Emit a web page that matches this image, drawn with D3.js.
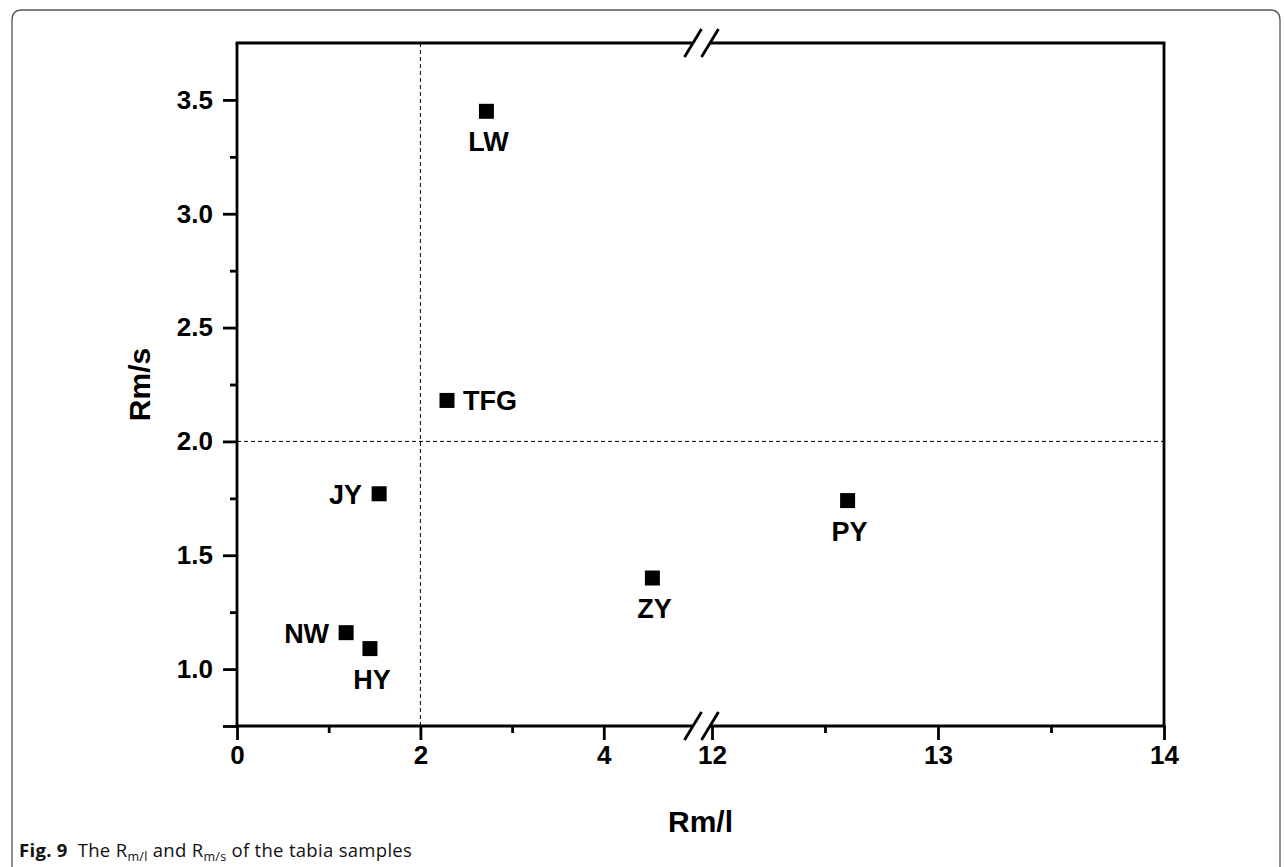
<!DOCTYPE html>
<html><head><meta charset="utf-8">
<script src="https://cdn.jsdelivr.net/npm/d3@7"></script>
<style>
body{margin:0;background:#fff;}
svg{display:block;}
</style></head>
<body>
<svg id="c" width="1284" height="867"></svg>
<script>
const samples = ["LW","TFG","JY","NW","HY","ZY","PY"];
const rml = [2.72, 2.29, 1.55, 1.19, 1.45, 4.53, 12.6];
const rms = [3.45, 2.18, 1.77, 1.16, 1.09, 1.40, 1.74];
const labelPos = ["below","right","left","left","below","below","below"];
const xTicks1 = [0, 2, 4];
const xMinor1 = [1, 3];
const xTicks2 = [12, 13, 14];
const xMinor2 = [12.5, 13.5];
const yTicks = [1.0, 1.5, 2.0, 2.5, 3.0, 3.5];
const yMinor = [1.25, 1.75, 2.25, 2.75, 3.25];
const refX = 2, refY = 2.0;

const svg = d3.select("#c");
const L = 237, R = 1164, T = 43, B = 726;
const brk1 = 693, brk2 = 710;
const x1 = d3.scaleLinear().domain([0, 5]).range([L, L + 5 * 91.7]);
const x2 = d3.scaleLinear().domain([12, 14]).range([712, R]);
const xs = v => v <= 6 ? x1(v) : x2(v);
const y = d3.scaleLinear().domain([0.75, 3.75]).range([B, T]);

// outer frame
svg.append("path")
  .attr("d", `M12,880 L12,20 Q12,10 22,10 L1270,10 Q1280,10 1280,20 L1280,880`)
  .attr("fill", "none").attr("stroke", "#555").attr("stroke-width", 1.3);

// reference dashed lines
svg.append("line").attr("x1", xs(refX)).attr("x2", xs(refX)).attr("y1", T).attr("y2", B)
  .attr("stroke", "#000").attr("stroke-width", 1).attr("stroke-dasharray", "4,3");
svg.append("line").attr("x1", L).attr("x2", R).attr("y1", y(refY)).attr("y2", y(refY))
  .attr("stroke", "#000").attr("stroke-width", 1).attr("stroke-dasharray", "4,3");

const font = "'Liberation Sans', Arial, sans-serif";
const sw = 2.8;
function styleAxis(g, showText) {
  g.select(".domain").remove();
  g.selectAll(".tick line").attr("stroke", "#000").attr("stroke-width", sw);
  g.selectAll(".tick text").attr("font-family", font).attr("font-weight", "bold")
    .attr("font-size", 26).attr("fill", "#000");
  if (!showText) g.selectAll(".tick text").remove();
}
// x axis segments
const gx1 = svg.append("g").attr("transform", `translate(0,${B})`)
  .call(d3.axisBottom(x1).tickValues(xTicks1).tickSize(14).tickPadding(6).tickFormat(d3.format("d")));
styleAxis(gx1, true);
const gx1m = svg.append("g").attr("transform", `translate(0,${B})`)
  .call(d3.axisBottom(x1).tickValues(xMinor1).tickSize(7));
styleAxis(gx1m, false);
const gx2 = svg.append("g").attr("transform", `translate(0,${B})`)
  .call(d3.axisBottom(x2).tickValues(xTicks2).tickSize(14).tickPadding(6).tickFormat(d3.format("d")));
styleAxis(gx2, true);
const gx2m = svg.append("g").attr("transform", `translate(0,${B})`)
  .call(d3.axisBottom(x2).tickValues(xMinor2).tickSize(7));
styleAxis(gx2m, false);
// y axis
const gy = svg.append("g").attr("transform", `translate(${L},0)`)
  .call(d3.axisLeft(y).tickValues(yTicks).tickSize(14).tickPadding(10).tickFormat(d3.format(".1f")));
styleAxis(gy, true);
const gym = svg.append("g").attr("transform", `translate(${L},0)`)
  .call(d3.axisLeft(y).tickValues(yMinor).tickSize(7));
styleAxis(gym, false);
const gy0 = svg.append("g").attr("transform", `translate(${L},0)`)
  .call(d3.axisLeft(y).tickValues([0.75]).tickSize(14));
styleAxis(gy0, false);

// frame lines with breaks
const ax = svg.append("g").attr("stroke", "#000").attr("stroke-width", sw).attr("fill", "none");
[T, B].forEach(yy => {
  ax.append("line").attr("x1", L - sw/2).attr("x2", brk1).attr("y1", yy).attr("y2", yy);
  ax.append("line").attr("x1", brk2).attr("x2", R + sw/2).attr("y1", yy).attr("y2", yy);
  [brk1, brk2].forEach(bx => {
    ax.append("line").attr("x1", bx - 8.5).attr("y1", yy + 14).attr("x2", bx + 8.5).attr("y2", yy - 14);
  });
});
ax.append("line").attr("x1", L).attr("x2", L).attr("y1", T).attr("y2", B);
ax.append("line").attr("x1", R).attr("x2", R).attr("y1", T).attr("y2", B);

// points
const pts = svg.append("g");
samples.forEach((s, i) => {
  const cx = xs(rml[i]), cy = y(rms[i]);
  pts.append("rect").attr("x", cx - 7.5).attr("y", cy - 7.5).attr("width", 15).attr("height", 15).attr("fill", "#000");
  const t = pts.append("text").text(s).attr("font-family", font).attr("font-weight", "bold")
    .attr("font-size", 27).attr("fill", "#000");
  if (labelPos[i] === "below") t.attr("x", cx + 2).attr("y", cy + 40).attr("text-anchor", "middle");
  else if (labelPos[i] === "right") t.attr("x", cx + 16).attr("y", cy + 10).attr("text-anchor", "start");
  else t.attr("x", cx - 17).attr("y", cy + 10).attr("text-anchor", "end");
});

// axis titles
svg.append("text").text("Rm/l").attr("x", (L + R) / 2).attr("y", 832).attr("text-anchor", "middle")
  .attr("font-family", font).attr("font-weight", "bold").attr("font-size", 30);
svg.append("text").text("Rm/s").attr("transform", `translate(150,${(T + B) / 2}) rotate(-90)`)
  .attr("text-anchor", "middle").attr("font-family", font).attr("font-weight", "bold").attr("font-size", 30);

// caption
const cap = svg.append("text").attr("x", 19).attr("y", 857).attr("font-family", "'Open Sans', 'Noto Sans', sans-serif")
  .attr("font-size", 18.5).attr("letter-spacing", 0.3).attr("fill", "#111");
cap.append("tspan").text("Fig. 9").attr("font-weight", "bold");
cap.append("tspan").text("The R").attr("dx", 10);
cap.append("tspan").text("m/l").attr("font-size", 12.5).attr("dy", 4);
cap.append("tspan").text(" and R").attr("dy", -4);
cap.append("tspan").text("m/s").attr("font-size", 12.5).attr("dy", 4);
cap.append("tspan").text(" of the tabia samples").attr("dy", -4);
</script>
</body></html>
